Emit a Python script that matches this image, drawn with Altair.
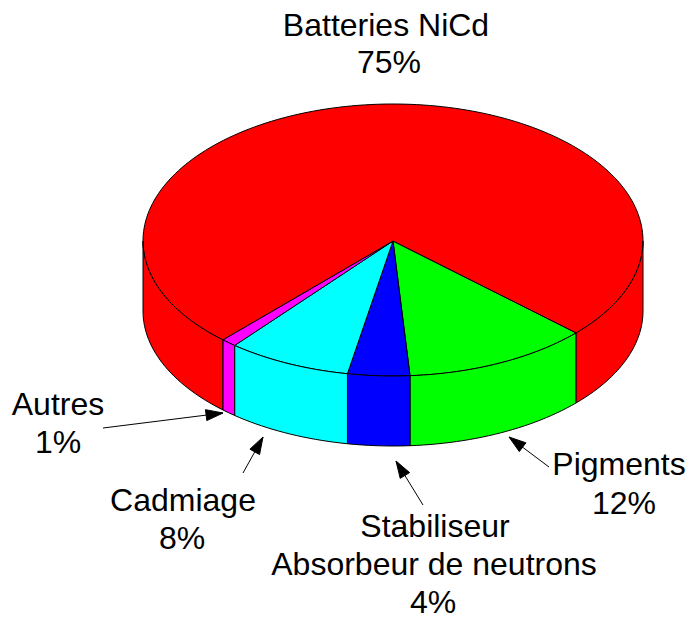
import math
import altair as alt
import pandas as pd

# Values
slices = ["Pigments", "Stabiliseur", "Cadmiage", "Autres", "Batteries NiCd"]
shares = [12, 4, 8, 1, 75]
colours = ["#00ff00", "#0000ff", "#00ffff", "#ff00ff", "#ff0000"]

# Text
label_text = ["Batteries NiCd", "75%", "Autres", "1%", "Cadmiage", "8%",
              "Stabiliseur", "Absorbeur de neutrons", "4%", "Pigments", "12%"]
label_x = [386, 389, 58, 58, 183, 182, 435, 434, 433, 619, 624]
label_y = [26, 63, 405, 443, 501, 539, 527, 565, 603, 465, 504]

# Arrows: tail and tip, in picture units
arrow_tail_x = [103, 243, 423, 549]
arrow_tail_y = [428, 473, 505, 467]
arrow_tip_x = [223, 263, 396, 509]
arrow_tip_y = [413, 437, 461, 437]

# Projection of the disc
CX, CY, RX, RY_BACK, RY_FRONT, DEPTH = 393, 241, 250, 137, 135, 70
START = -42.9  # degrees, slices run clockwise on screen


def rim(t, drop=0):
    a = math.radians(t)
    s = math.sin(a)
    return CX + RX * math.cos(a), CY - (RY_BACK if s > 0 else RY_FRONT) * s + drop


def arc(t0, t1, drop=0):
    n = max(2, int(abs(t1 - t0) / 1.5) + 1)
    return [rim(t0 + (t1 - t0) * k / (n - 1), drop) for k in range(n)]


rows = []


def add(part, fill, pts):
    pts = list(pts) + [pts[0]]
    for i, (x, y) in enumerate(pts):
        rows.append({"part": part, "fill": fill, "i": i, "x": x, "y": y})


t = START
for name, share in zip(slices, shares):
    t_end = t - share * 3.6
    add(name + " top", name, [(CX, CY)] + arc(t, t_end))
    # only the front half of the wall (angles in -180..0) can be seen
    if name == "Batteries NiCd":
        spans = [(-180, t), (START, 0)]
    else:
        spans = [(t, t_end)]
    for j, (a, b) in enumerate(spans):
        add(f"{name} wall {j}", name, arc(a, b) + arc(b, a, DEPTH))
    t = t_end

for k in range(len(arrow_tail_x)):
    tx, ty = arrow_tail_x[k], arrow_tail_y[k]
    px, py = arrow_tip_x[k], arrow_tip_y[k]
    d = math.hypot(px - tx, py - ty)
    ux, uy = (px - tx) / d, (py - ty) / d
    bx, by = px - 17 * ux, py - 17 * uy
    add(f"head {k}", "arrow", [(px, py), (bx - 5.5 * uy, by + 5.5 * ux), (bx + 5.5 * uy, by - 5.5 * ux)])

x_scale = alt.Scale(domain=[8, 687], nice=False, zero=False)
y_scale = alt.Scale(domain=[620, 8], nice=False, zero=False)

polys = alt.Chart(pd.DataFrame(rows)).mark_line(strokeWidth=1, stroke="black", interpolate="linear").encode(
    x=alt.X("x:Q", scale=x_scale, axis=None),
    y=alt.Y("y:Q", scale=y_scale, axis=None),
    fill=alt.Fill("fill:N", scale=alt.Scale(domain=slices + ["arrow"], range=colours + ["#000000"]), legend=None),
    detail="part:N",
    order="i:Q",
)

shafts = alt.Chart(pd.DataFrame({"x": arrow_tail_x, "y": arrow_tail_y, "x2": arrow_tip_x, "y2": arrow_tip_y})).mark_rule(
    color="black", strokeWidth=1
).encode(
    x=alt.X("x:Q", scale=x_scale, axis=None),
    y=alt.Y("y:Q", scale=y_scale, axis=None),
    x2="x2:Q",
    y2="y2:Q",
)

labels = alt.Chart(pd.DataFrame({"t": label_text, "x": label_x, "y": label_y})).mark_text(
    font="Liberation Sans", fontSize=32, color="black", align="center", baseline="middle"
).encode(
    x=alt.X("x:Q", scale=x_scale, axis=None),
    y=alt.Y("y:Q", scale=y_scale, axis=None),
    text="t:N",
)

chart = (shafts + polys + labels).properties(
    width=679, height=612, padding=0, background="white",
    autosize=alt.AutoSizeParams(type="none"),
).configure_view(stroke=None)
chart.save("out.html", embed_options={"renderer": "svg", "actions": False})
